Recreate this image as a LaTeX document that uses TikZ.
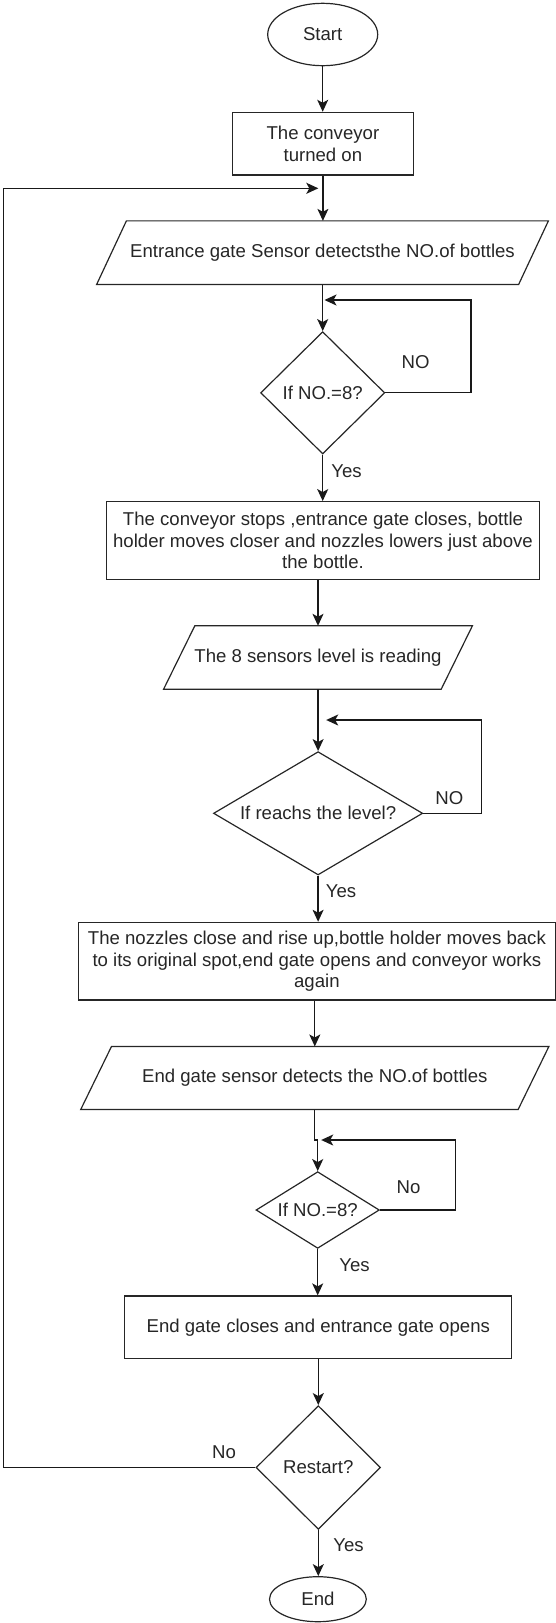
\documentclass[tikz,border=0pt]{standalone}
\usepackage{fontspec}
\setmainfont{Liberation Sans}
\usetikzlibrary{shapes.geometric,arrows.meta}
\tikzset{
  base/.style={font=\fontsize{18.6}{21.7}\selectfont, text=black!85},
  shapeline/.style={draw=black!85, line width=1.2pt},
  terminal/.style={base, shapeline, ellipse, inner sep=0pt},
  procbox/.style={base, shapeline, rectangle, inner sep=0pt, align=center},
  iobox/.style={base, rectangle, inner sep=0pt, align=center},
  decision/.style={base, shapeline, diamond, inner sep=0pt, align=center},
  flow/.style={line width=1.3pt, draw=black!90, -{Stealth[length=12pt,width=11pt,inset=3pt]}},
  lbl/.style={base, inner sep=0pt}
}
\newcommand\paraoutline[2]{\draw[shapeline] ([xshift=#2]#1.north west) -- ([xshift=#2]#1.north east) -- ([xshift=-#2]#1.south east) -- ([xshift=-#2]#1.south west) -- cycle;}
\begin{document}
\begin{tikzpicture}[x=1pt,y=-1pt]
\useasboundingbox (0,0) rectangle (556,1623);
% nodes
\node[terminal, minimum width=110, minimum height=62.4] (start) at (322.7,34.5) {Start};
\node[procbox, minimum width=180.5, minimum height=62.7] (box1) at (322.9,143.7) {The conveyor\\turned on};
\node[iobox, minimum width=421.6, minimum height=63.3] (p1) at (322.5,252.7) {Entrance gate Sensor detectsthe NO.of bottles};
\paraoutline{p1}{14.9}
\node[decision, shape aspect=1, minimum width=124.2, minimum height=122.3] (d1) at (322.7,392.8) {If NO.=8?};
\node[procbox, minimum width=433.3, minimum height=77.7] (box2) at (323,540.5) {The conveyor stops ,entrance gate closes, bottle\\holder moves closer and nozzles lowers just above\\the bottle.};
\node[iobox, minimum width=277.2, minimum height=63] (p2) at (318,657.5) {The 8 sensors level is reading};
\paraoutline{p2}{15.6}
\node[decision, shape aspect=1.7, minimum width=209.2, minimum height=123.3] (d2) at (318.1,813.3) {If reachs the level?};
\node[procbox, minimum width=476.5, minimum height=77.7] (box3) at (316.9,961.2) {The nozzles close and rise up,bottle holder moves back\\to its original spot,end gate opens and conveyor works\\again};
\node[iobox, minimum width=437, minimum height=62.7] (p3) at (314.8,1078) {End gate sensor detects the NO.of bottles};
\paraoutline{p3}{15.4}
\node[decision, shape aspect=1.6, minimum width=123.4, minimum height=76.7] (d3) at (317.7,1210) {If NO.=8?};
\node[procbox, minimum width=386.9, minimum height=62.7] (box4) at (318.3,1327.3) {End gate closes and entrance gate opens};
\node[decision, shape aspect=1, minimum width=124.5, minimum height=123.7] (d4) at (318.3,1467.5) {Restart?};
\node[terminal, minimum width=96.8, minimum height=45] (end) at (317.9,1599.2) {End};
% labels
\node[lbl] (no1) at (415.6,362) {NO};
\node[lbl] (yes1) at (346.5,471) {Yes};
\node[lbl] (no2) at (449.3,798.3) {NO};
\node[lbl] (yes2) at (341,891) {Yes};
\node[lbl] (no3) at (408.5,1187.3) {No};
\node[lbl] (yes3) at (354.6,1265) {Yes};
\node[lbl] (no4) at (224.1,1452.3) {No};
\node[lbl] (yes4) at (348.6,1545) {Yes};
% helper coordinates
\coordinate (leftx) at (3.5,188.3);
\coordinate (in1) at (318.3,188.3);
\coordinate (l1) at (470.9,300);
\coordinate (in2) at (324.5,300);
\coordinate (l2) at (481.6,720);
\coordinate (in3) at (326.2,720);
\coordinate (l3) at (455.7,1140);
\coordinate (in4) at (321.2,1140);
% connectors
\draw[flow] (start.south) -- (start.south |- box1.north);
\draw[flow] (box1.south) -- (box1.south |- p1.north);
\draw[flow] (d1.north |- p1.south) -- (d1.north);
\draw[flow] (d1.east) -| (l1) -- (in2);
\draw[flow] (d1.south) -- (d1.south |- box2.north);
\draw[flow] (p2.north |- box2.south) -- (p2.north);
\draw[flow] (d2.north |- p2.south) -- (d2.north);
\draw[flow] (d2.east) -| (l2) -- (in3);
\draw[flow] (d2.south) -- (d2.south |- box3.north);
\draw[flow] (p3.north |- box3.south) -- (p3.north);
\draw[flow] (p3.south) -- (p3.south |- in4) -- (d3.north |- in4) -- (d3.north);
\draw[flow] (d3.east) -| (l3) -- (in4);
\draw[flow] (d3.south) -- (d3.south |- box4.north);
\draw[flow] (d4.north |- box4.south) -- (d4.north);
\draw[flow] (d4.south) -- (d4.south |- end.north);
\draw[flow] (d4.west) -| (leftx) -- (in1);
\end{tikzpicture}
\end{document}
